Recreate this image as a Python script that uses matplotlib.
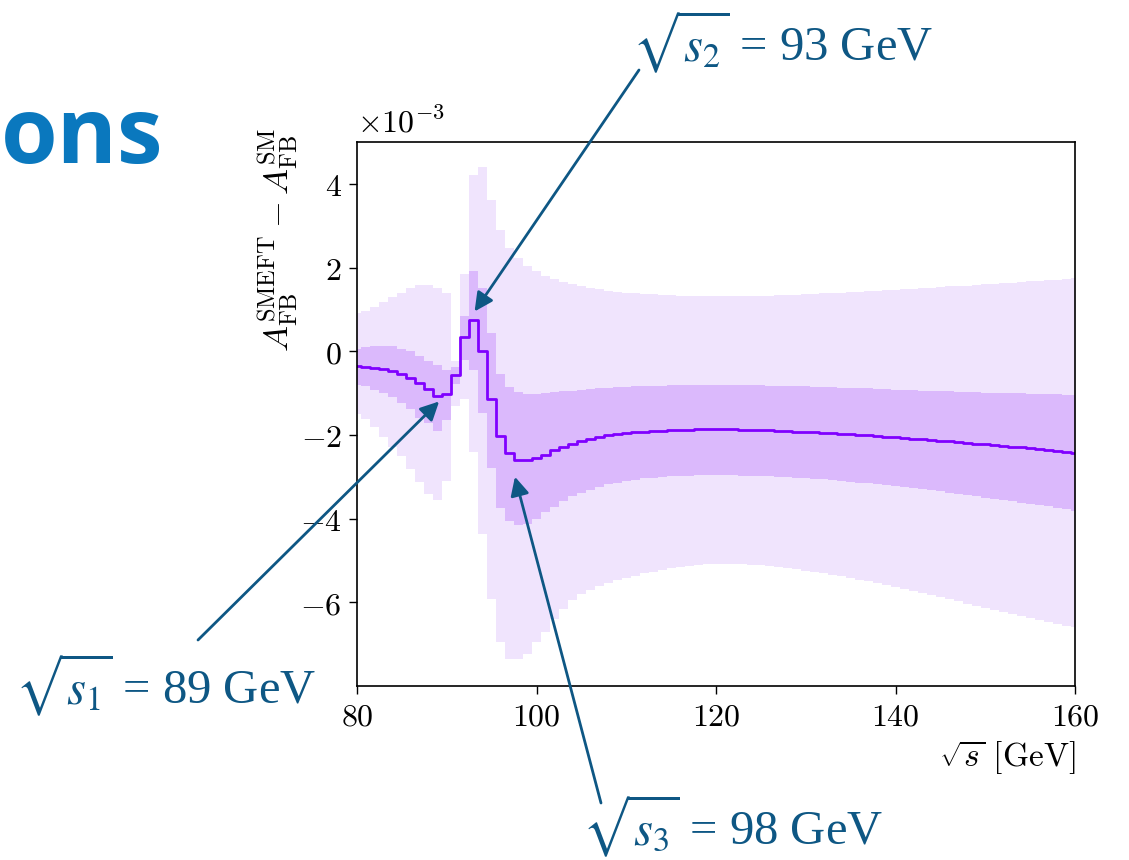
import matplotlib
matplotlib.use("Agg")
import matplotlib.pyplot as plt
from matplotlib.ticker import FuncFormatter, FixedLocator
import numpy as np

# --- data (units of 1e-3), sqrt(s) in GeV ---
sqrt_s = list(range(80, 161))

central = [-0.36, -0.37, -0.40, -0.43, -0.48, -0.54, -0.65, -0.76, -0.91, -1.06,
           -1.03, -0.56, 0.35, 0.75, 0.00, -1.15, -2.03, -2.43, -2.60, -2.60,
           -2.55, -2.47, -2.36, -2.28, -2.22, -2.15, -2.09, -2.04, -2.00, -1.98,
           -1.96, -1.94, -1.92, -1.91, -1.90, -1.89, -1.88, -1.88, -1.87, -1.87,
           -1.87, -1.87, -1.87, -1.88, -1.88, -1.89, -1.89, -1.90, -1.91, -1.92,
           -1.93, -1.94, -1.95, -1.96, -1.97, -1.98, -2.00, -2.01, -2.03, -2.04,
           -2.06, -2.07, -2.09, -2.10, -2.12, -2.14, -2.15, -2.17, -2.19, -2.21,
           -2.22, -2.24, -2.26, -2.28, -2.30, -2.32, -2.34, -2.36, -2.38, -2.40,
           -2.43]

inner_hi = [0.06, 0.10, 0.13, 0.13, 0.12, 0.06, 0.00, -0.12, -0.24, -0.34,
            -0.45, -0.38, 0.84, 1.91, 1.51, 0.44, -0.55, -0.85, -0.97, -1.02,
            -1.03, -1.01, -0.98, -0.96, -0.94, -0.92, -0.90, -0.89, -0.88, -0.86,
            -0.85, -0.84, -0.83, -0.82, -0.82, -0.81, -0.81, -0.80, -0.80, -0.80,
            -0.80, -0.80, -0.80, -0.81, -0.81, -0.81, -0.82, -0.82, -0.83, -0.83,
            -0.84, -0.85, -0.85, -0.86, -0.87, -0.88, -0.88, -0.89, -0.90, -0.91,
            -0.92, -0.92, -0.93, -0.94, -0.95, -0.96, -0.96, -0.97, -0.98, -0.98,
            -0.99, -1.00, -1.00, -1.01, -1.01, -1.02, -1.02, -1.03, -1.03, -1.04,
            -1.04]

inner_lo = [-0.80, -0.84, -0.92, -1.00, -1.10, -1.24, -1.39, -1.59, -1.71, -1.91,
            -1.65, -0.78, -0.20, -0.45, -1.47, -2.78, -3.75, -4.05, -4.15, -4.12,
            -4.02, -3.85, -3.72, -3.58, -3.47, -3.38, -3.31, -3.24, -3.18, -3.14,
            -3.10, -3.07, -3.04, -3.02, -3.00, -2.99, -2.98, -2.97, -2.96, -2.96,
            -2.96, -2.96, -2.96, -2.97, -2.97, -2.98, -2.99, -3.00, -3.01, -3.02,
            -3.03, -3.05, -3.06, -3.08, -3.10, -3.12, -3.14, -3.16, -3.18, -3.20,
            -3.22, -3.25, -3.27, -3.30, -3.32, -3.35, -3.38, -3.41, -3.44, -3.47,
            -3.50, -3.53, -3.56, -3.59, -3.62, -3.65, -3.68, -3.71, -3.75, -3.78,
            -3.82]

outer_hi = [0.92, 0.96, 1.06, 1.17, 1.30, 1.39, 1.51, 1.59, 1.59, 1.51,
            1.40, -0.24, 1.84, 4.22, 4.41, 3.62, 2.90, 2.46, 2.22, 2.03,
            1.91, 1.79, 1.72, 1.65, 1.60, 1.55, 1.51, 1.48, 1.45, 1.42,
            1.40, 1.38, 1.37, 1.36, 1.35, 1.34, 1.33, 1.32, 1.32, 1.31,
            1.31, 1.31, 1.32, 1.32, 1.32, 1.33, 1.33, 1.34, 1.34, 1.35,
            1.36, 1.37, 1.38, 1.39, 1.40, 1.41, 1.42, 1.43, 1.45, 1.46,
            1.47, 1.48, 1.49, 1.51, 1.52, 1.53, 1.55, 1.56, 1.57, 1.59,
            1.60, 1.61, 1.63, 1.64, 1.66, 1.67, 1.68, 1.70, 1.71, 1.73,
            1.74]

outer_lo = [-1.50, -1.62, -1.80, -2.05, -2.28, -2.50, -2.82, -3.12, -3.40, -3.55,
            -3.10, -1.31, -1.15, -2.40, -4.37, -5.93, -6.96, -7.36, -7.36, -7.24,
            -6.96, -6.72, -6.40, -6.15, -5.95, -5.80, -5.70, -5.60, -5.53, -5.47,
            -5.41, -5.36, -5.31, -5.27, -5.23, -5.19, -5.16, -5.13, -5.11, -5.09,
            -5.08, -5.08, -5.08, -5.09, -5.10, -5.11, -5.13, -5.16, -5.18, -5.21,
            -5.24, -5.27, -5.30, -5.34, -5.38, -5.42, -5.46, -5.50, -5.54, -5.59,
            -5.63, -5.68, -5.73, -5.78, -5.83, -5.88, -5.93, -5.98, -6.03, -6.08,
            -6.13, -6.18, -6.23, -6.28, -6.33, -6.38, -6.43, -6.47, -6.52, -6.56,
            -6.60]

x_ticks = [80, 100, 120, 140, 160]
y_ticks = [-6, -4, -2, 0, 2, 4]

annotations = [
    (r"$\sqrt{s_1}$ = 89 GeV", 89.15, -1.2),
    (r"$\sqrt{s_2}$ = 93 GeV", 93.1, 0.95),
    (r"$\sqrt{s_3}$ = 98 GeV", 97.6, -3.0),
]

# --- figure ---
W, H = 1129, 860
fig = plt.figure(figsize=(W / 100, H / 100), dpi=100)
ax = fig.add_axes([357 / W, 1 - 686 / H, (1075 - 357) / W, (686 - 142) / H])

c_outer = "#f0e4fd"
c_inner = "#dbb9fc"
c_line = "#8000ff"

ax.fill_between(sqrt_s, outer_lo, outer_hi, step="mid", color=c_outer, lw=0)
ax.fill_between(sqrt_s, inner_lo, inner_hi, step="mid", color=c_inner, lw=0)
ax.step(sqrt_s, central, where="mid", color=c_line, lw=2.0)

ax.set_xlim(80, 160)
ax.set_ylim(-8.0, 5.0)
ax.xaxis.set_major_locator(FixedLocator(x_ticks))
ax.yaxis.set_major_locator(FixedLocator(y_ticks))
fmt = FuncFormatter(lambda v, p: r"$%g$" % v)
ax.xaxis.set_major_formatter(fmt)
ax.yaxis.set_major_formatter(fmt)
ax.tick_params(direction="out", length=6, width=1.0, labelsize=23, pad=5)
for lab in ax.get_xticklabels() + ax.get_yticklabels():
    lab.set_math_fontfamily("cm")
for s in ax.spines.values():
    s.set_linewidth(1.2)

ax.text(0.0, 1.005, r"$\times10^{-3}$", transform=ax.transAxes, ha="left",
        va="bottom", fontsize=23, math_fontfamily="cm")
ax.set_ylabel(r"$A_{\rm FB}^{\rm SMEFT} - A_{\rm FB}^{\rm SM}$", fontsize=25,
              math_fontfamily="cm")
ax.yaxis.set_label_coords(-0.08, 0.82)
ax.set_xlabel(r"$\sqrt{s}\ [{\rm GeV}]$", fontsize=24, math_fontfamily="cm")
ax.xaxis.set_label_coords(1.0, -0.095)
ax.xaxis.label.set_horizontalalignment("right")

# annotations
ann_col = "#0e5784"
text_pos = [(166, H - 685), (783, H - 42), (733, H - 826)]
tail_pos = [(198, H - 640), (639, H - 70), (601, H - 803)]
for (txt, xd, yd), tp, tl in zip(annotations, text_pos, tail_pos):
    ax.annotate("", xy=(xd, yd), xycoords="data", xytext=tl,
                textcoords="figure pixels",
                arrowprops=dict(arrowstyle="-|>", color=ann_col, lw=2.0,
                                mutation_scale=28, shrinkA=0, shrinkB=0),
                annotation_clip=False)
    fig.text(tp[0] / W, tp[1] / H, txt, ha="center", va="center",
             fontsize=35, color=ann_col, family="Liberation Serif",
             math_fontfamily="stix")

# partial slide title
fig.text(1 / W, 1 - 163 / H, "ons", ha="left", va="baseline", fontsize=66,
         fontweight="bold", color="#0a78be", family="Open Sans")

fig.savefig("out.png", dpi=100)
